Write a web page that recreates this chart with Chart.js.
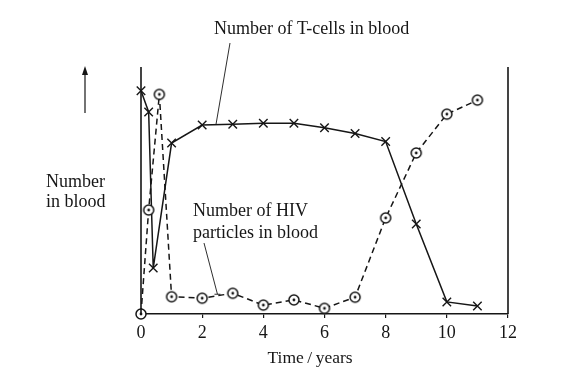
<!DOCTYPE html>
<html>
<head>
<meta charset="utf-8">
<script src="https://cdn.jsdelivr.net/npm/chart.js@4"></script>
<style>
  html, body { margin: 0; padding: 0; background: #ffffff; }
  #wrap { width: 570px; height: 381px; position: relative; }
</style>
</head>
<body>
<div id="wrap"><canvas id="c" width="570" height="381"></canvas></div>
<script>
// ---- data ----
const tcellYears = [0, 0.25, 0.4, 1, 2, 3, 4, 5, 6, 7, 8, 9, 10, 11];
const tcellValues = [90.4, 81.8, 18.6, 69.2, 76.5, 76.8, 77.2, 77.2, 75.4, 73.1, 69.8, 36.4, 4.9, 3.2];
const hivYears = [0, 0.25, 0.6, 1, 2, 3, 4, 5, 6, 7, 8, 9, 10, 11];
const hivValues = [0, 42.1, 88.9, 7.0, 6.4, 8.4, 3.6, 5.7, 2.3, 6.8, 38.9, 65.2, 80.9, 86.6];
const xTicks = [0, 2, 4, 6, 8, 10, 12];
const xTitle = 'Time\u2009/\u2009years';
const yTitleLines = ['Number', 'in blood'];
const tcellLabel = ['Number of T-cells in blood'];
const hivLabel = ['Number of HIV', 'particles in blood'];

const INK = '#161616';
const FONT = '"Liberation Serif", "DejaVu Serif", serif';

// circle-with-dot marker
function makeCircleMarker() {
  const c = document.createElement('canvas');
  c.width = 14; c.height = 14;
  const g = c.getContext('2d');
  g.beginPath(); g.arc(7, 7, 5, 0, Math.PI * 2);
  g.fillStyle = '#fff'; g.fill();
  g.lineWidth = 1.5; g.strokeStyle = INK; g.stroke();
  g.beginPath(); g.arc(7, 7, 1.4, 0, Math.PI * 2);
  g.fillStyle = INK; g.fill();
  return c;
}
const circleMarker = makeCircleMarker();

const toPts = (xs, ys) => xs.map((x, i) => ({ x: x, y: ys[i] }));

const annotations = {
  id: 'annotations',
  afterDraw(chart) {
    const { ctx, chartArea: a, scales } = chart;
    const xs = scales.x, ys = scales.y;
    ctx.save();
    ctx.strokeStyle = INK;
    ctx.fillStyle = INK;
    // vertical frame lines
    ctx.lineWidth = 1.6;
    ctx.beginPath();
    ctx.moveTo(a.left, a.top); ctx.lineTo(a.left, a.bottom);
    ctx.moveTo(a.right, a.top); ctx.lineTo(a.right, a.bottom);
    ctx.stroke();
    // arrow
    ctx.lineWidth = 1.2;
    ctx.beginPath(); ctx.moveTo(85, 113); ctx.lineTo(85, 72); ctx.stroke();
    ctx.beginPath(); ctx.moveTo(85, 66); ctx.lineTo(82, 75); ctx.lineTo(88, 75); ctx.closePath(); ctx.fill();
    // texts
    ctx.font = '18px ' + FONT;
    ctx.textBaseline = 'middle';
    ctx.textAlign = 'left';
    ctx.fillText(yTitleLines[0], 46, 182);
    ctx.fillText(yTitleLines[1], 46, 202);
    ctx.fillText(tcellLabel[0], 214, 29);
    ctx.fillText(hivLabel[0], 193, 211);
    ctx.fillText(hivLabel[1], 193, 233);
    ctx.font = '17.5px ' + FONT;
    ctx.textAlign = 'center';
    ctx.fillText(xTitle, 310, 358);
    // leader lines
    ctx.lineWidth = 0.9;
    ctx.beginPath();
    ctx.moveTo(230, 43);
    ctx.lineTo(xs.getPixelForValue(2.45), ys.getPixelForValue(76.6));
    ctx.stroke();
    const hx = xs.getPixelForValue(2.5), hy = ys.getPixelForValue(8);
    ctx.beginPath();
    ctx.moveTo(204, 243); ctx.lineTo(hx, hy);
    ctx.moveTo(hx - 3, hy); ctx.lineTo(hx + 3, hy);
    ctx.stroke();
    ctx.restore();
  }
};

new Chart(document.getElementById('c'), {
  type: 'scatter',
  data: {
    datasets: [
      {
        label: 'HIV',
        data: toPts(hivYears, hivValues),
        showLine: true,
        borderColor: INK,
        borderWidth: 1.5,
        borderDash: [6, 4],
        tension: 0,
        pointStyle: circleMarker,
        pointRadius: 5,
        clip: false
      },
      {
        label: 'T-cells',
        data: toPts(tcellYears, tcellValues),
        showLine: true,
        borderColor: INK,
        borderWidth: 1.5,
        tension: 0,
        pointStyle: 'crossRot',
        pointRadius: 6,
        pointBorderColor: INK,
        pointBorderWidth: 1.4,
        clip: false
      }
    ]
  },
  options: {
    responsive: false,
    animation: false,
    events: [],
    layout: { padding: { left: 141, right: 62, top: 67, bottom: 0 } },
    plugins: { legend: { display: false }, tooltip: { enabled: false } },
    scales: {
      x: {
        type: 'linear',
        min: 0, max: 12,
        afterBuildTicks(scale) { scale.ticks = xTicks.map(v => ({ value: v })); },
        afterFit(scale) { scale.height = 67; },
        ticks: { color: INK, font: { family: FONT, size: 18 }, padding: 4, maxRotation: 0 },
        grid: { drawOnChartArea: false, drawTicks: true, tickLength: 4, color: INK, lineWidth: 1.2 },
        border: { display: true, color: INK, width: 1.6 },
        title: { display: false }
      },
      y: {
        display: false,
        min: 0, max: 100
      }
    }
  },
  plugins: [annotations]
});
</script>
</body>
</html>
